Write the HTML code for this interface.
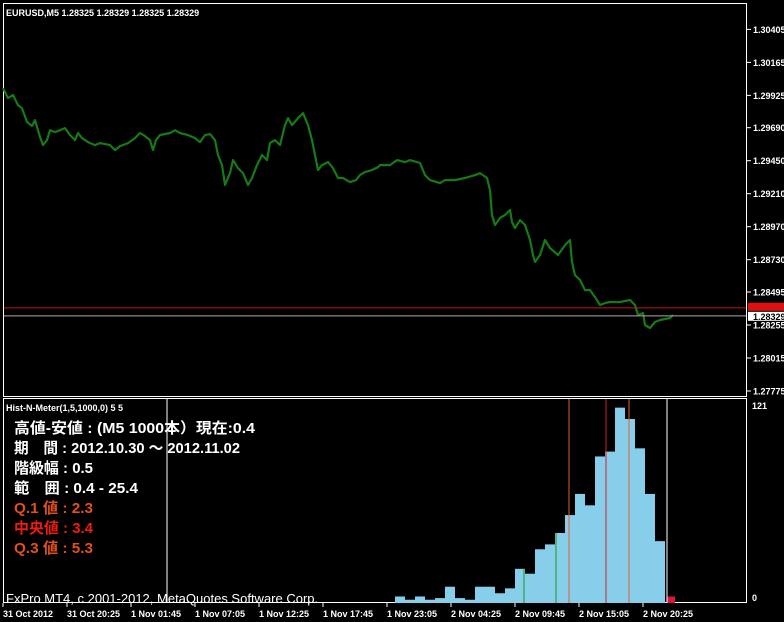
<!DOCTYPE html>
<html><head><meta charset="utf-8"><style>
html,body{margin:0;padding:0;background:#000;width:784px;height:622px;overflow:hidden}
svg{display:block}
.ax{font-family:"Liberation Sans",sans-serif;font-size:9px;fill:#fff;font-weight:bold}
.jp{font-family:"Liberation Sans","Noto Sans CJK JP",sans-serif;font-size:15px;font-weight:bold}
</style></head><body>
<svg id="chart" width="784" height="622" xmlns="http://www.w3.org/2000/svg">
<rect x="0" y="0" width="784" height="622" fill="#000"/>
<rect x="3.5" y="3.5" width="743" height="393" fill="none" stroke="#fff"/>
<rect x="3.5" y="398.5" width="743" height="204" fill="none" stroke="#fff"/>
<text x="6" y="16" class="ax" font-size="8.5">EURUSD,M5  1.28325 1.28329 1.28325 1.28329</text>
<g id="yaxis"></g>
<g id="xaxis"></g>
<g id="sub"></g>
<g id="price"></g>
<text x="6" y="411" class="ax" font-size="8" font-weight="normal">Hist-N-Meter(1,5,1000,0) 5 5</text>
<g class="jp">
<text x="14" y="433" fill="#fff" textLength="241" lengthAdjust="spacingAndGlyphs">高値-安値 : (M5 1000本）現在:0.4</text>
<text x="14" y="453" fill="#fff" textLength="226" lengthAdjust="spacingAndGlyphs">期　間 : 2012.10.30 ～ 2012.11.02</text>
<text x="14" y="473" fill="#fff" textLength="79" lengthAdjust="spacingAndGlyphs">階級幅 : 0.5</text>
<text x="14" y="493" fill="#fff" textLength="124" lengthAdjust="spacingAndGlyphs">範　囲 : 0.4 - 25.4</text>
<text x="14" y="513" fill="#e0501a" textLength="79" lengthAdjust="spacingAndGlyphs">Q.1 値 : 2.3</text>
<text x="14" y="533" fill="#ee1c10" textLength="79" lengthAdjust="spacingAndGlyphs">中央値 : 3.4</text>
<text x="14" y="553" fill="#e0501a" textLength="79" lengthAdjust="spacingAndGlyphs">Q.3 値 : 5.3</text>
</g>
<text x="6" y="603" fill="#fff" font-family="Liberation Sans,sans-serif" font-size="13">FxPro MT4, c 2001-2012, MetaQuotes Software Corp.</text>
</svg>
<script>
const priceTicks=[1.30405,1.30165,1.29925,1.29690,1.29450,1.29210,1.28970,1.28730,1.28495,1.28255,1.28015,1.27775];
const timeLabels=["31 Oct 2012","31 Oct 20:25","1 Nov 01:45","1 Nov 07:05","1 Nov 12:25","1 Nov 17:45","1 Nov 23:05","2 Nov 04:25","2 Nov 09:45","2 Nov 15:05","2 Nov 20:25"];
const barIdx=[0,5,10,15,19,24,29,32,35,37,40,44,47,52,57,62,67,72,75,79,85,92,97,107,112,117,125,132,137,142,147,150,153,157,167,172,177,185,192,197,202,207,212,215,219,222,227,230,235,240,245,249,254,259,264,267,272,277,282,285,289,295,300,305,309,312,315,319,325,330,335,340,347,353,357,362,369,375,377,387,394,402,407,417,422,427,437,442,452,462,472,477,484,487,489,492,497,502,507,509,512,517,522,527,530,532,537,542,547,555,562,567,569,572,577,582,587,592,597,602,607,617,627,632,635,640,642,647,652,657,667,670];
const closes=[1.29978,1.29905,1.29928,1.29854,1.29832,1.29731,1.29702,1.29745,1.29672,1.29622,1.29563,1.29600,1.29672,1.29658,1.29672,1.29687,1.29636,1.29600,1.29651,1.29614,1.29585,1.29563,1.29578,1.29563,1.29527,1.29556,1.29578,1.29614,1.29651,1.29629,1.29600,1.29527,1.29600,1.29636,1.29651,1.29672,1.29651,1.29636,1.29614,1.29585,1.29636,1.29643,1.29600,1.29491,1.29418,1.29273,1.29360,1.29454,1.29396,1.29360,1.29273,1.29324,1.29418,1.29491,1.29454,1.29578,1.29600,1.29563,1.29709,1.29760,1.29709,1.29760,1.29796,1.29709,1.29600,1.29491,1.29382,1.29418,1.29440,1.29396,1.29324,1.29324,1.29294,1.29309,1.29345,1.29367,1.29382,1.29403,1.29418,1.29418,1.29454,1.29440,1.29454,1.29433,1.29345,1.29309,1.29287,1.29309,1.29309,1.29324,1.29345,1.29360,1.29324,1.29236,1.29055,1.28982,1.29033,1.29055,1.29091,1.29004,1.28960,1.29018,1.28982,1.28873,1.28764,1.28713,1.28764,1.28873,1.28815,1.28764,1.28836,1.28873,1.28713,1.28618,1.28582,1.28509,1.28509,1.28458,1.28400,1.28415,1.28422,1.28422,1.28437,1.28400,1.28328,1.28342,1.28255,1.28233,1.28277,1.28291,1.28306,1.28328];
const histCounts=[4,2,4,2,3,10,3,2,10,10,6,9,21,18,33,36,43,54,67,60,90,93,120,113,95,67,38];
const currentCount=[4];
const histMax=121;
const bidPrice=1.28329, askPrice=1.28380;
const quantileLines=[{x:524,c:"#1a9a1a",v:21},{x:556,c:"#1a9a1a",v:43},{x:569,c:"#e0602a",v:999},{x:606,c:"#d02020",v:999},{x:629,c:"#e0602a",v:999}];
const NS="http://www.w3.org/2000/svg";
function mk(t,a,p){const e=document.createElementNS(NS,t);for(const k in a)e.setAttribute(k,a[k]);p.appendChild(e);return e;}
const yP=p=>391-(p-1.27775)*13750;
const xB=i=>3+i;
const yH=v=>Math.max(399,603-v*(603-406)/histMax);
const ya=document.getElementById('yaxis');
priceTicks.forEach(p=>{
 const l=mk('line',{x1:747,x2:751,y1:yP(p),y2:yP(p),stroke:'#fff'},ya);
 
 
 const t=mk('text',{x:753,y:yP(p)+3.5,class:'ax'},ya);t.textContent=p.toFixed(5);
 
 
});
const xa=document.getElementById('xaxis');
timeLabels.forEach((s,i)=>{
 const x=3+i*64;
 const l=mk('line',{x1:x,x2:x,y1:603,y2:607,stroke:'#fff'},xa);
 
 
 const t=mk('text',{x:x,y:617,class:'ax'},xa);t.textContent=s;
 
 
});
const pg=document.getElementById('price');
const pl=mk('polyline',{points:barIdx.map((b,i)=>xB(b)+','+yP(closes[i]).toFixed(1)).join(' '),fill:'none',stroke:'#167a16','stroke-width':2.2,'stroke-linejoin':'round'},pg);


const ask=mk('line',{x1:4,x2:746,y1:yP(askPrice),y2:yP(askPrice),stroke:'#c01818'},pg);


const bid=mk('line',{x1:4,x2:746,y1:yP(bidPrice)+1,y2:yP(bidPrice)+1,stroke:'#aaa'},pg);


const ab=mk('rect',{x:748,y:yP(askPrice)-5,width:36,height:8,fill:'#e01010'},pg);


const bb=mk('rect',{x:748,y:yP(bidPrice)-3,width:36,height:9,fill:'#fff'},pg);


const bt=mk('text',{x:753,y:yP(bidPrice)+5,class:'ax'},pg);bt.style.fill='#000';bt.textContent=bidPrice.toFixed(5);


const sg=document.getElementById('sub');
histCounts.forEach((v,i)=>{
 const r=mk('rect',{x:395+i*10,y:yH(v),width:10,height:603-yH(v),fill:'#87ceeb'},sg);
 
 
});
const cr=mk('rect',{x:667,y:yH(currentCount[0]),width:8,height:603-yH(currentCount[0]),fill:'#dc143c'},sg);


quantileLines.forEach(q=>{
 const l=mk('line',{x1:q.x,x2:q.x,y1:yH(q.v),y2:603,stroke:q.c},sg);
 
 
});
[167,667].forEach(x=>{
 const l=mk('line',{x1:x,x2:x,y1:399,y2:603,stroke:'#fff'},sg);
 
 
});
const t1=mk('text',{x:752,y:409,class:'ax'},sg);t1.textContent=String(histMax);


const t0=mk('text',{x:752,y:601,class:'ax'},sg);t0.textContent='0';


</script>
</body></html>
